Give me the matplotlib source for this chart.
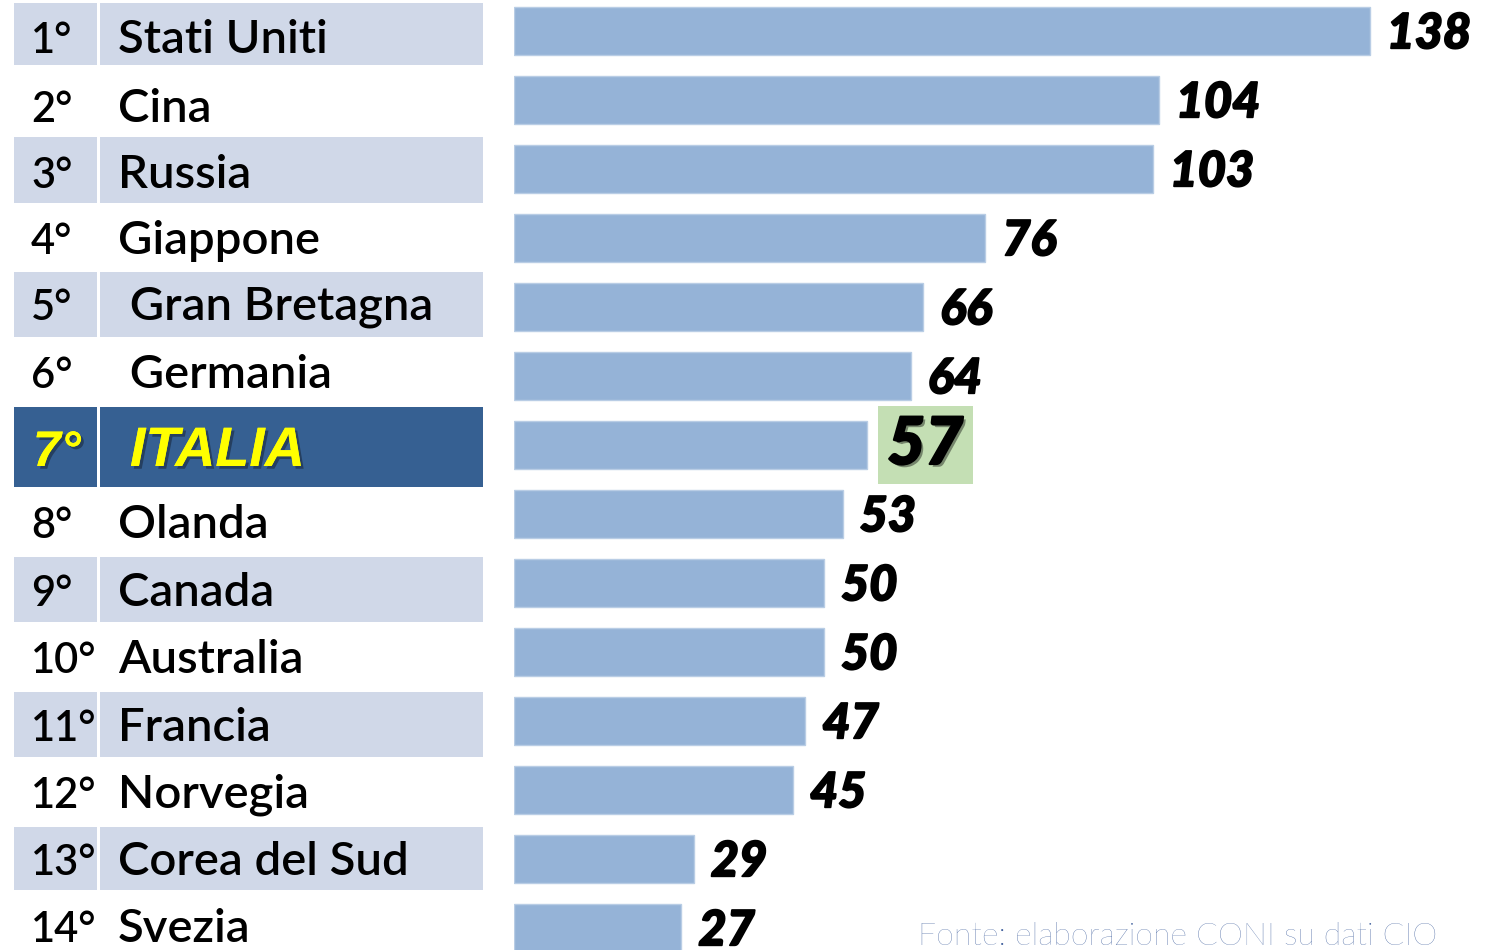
import matplotlib
matplotlib.use('Agg')
import matplotlib.pyplot as plt
import matplotlib.patheffects as pe
from matplotlib.patches import Rectangle

ranks = ['1°', '2°', '3°', '4°', '5°', '6°', '7°', '8°', '9°', '10°',
         '11°', '12°', '13°', '14°']
countries = ['Stati Uniti', 'Cina', 'Russia', 'Giappone', ' Gran Bretagna',
             ' Germania', 'ITALIA', 'Olanda', 'Canada', 'Australia',
             'Francia', 'Norvegia', 'Corea del Sud', 'Svezia']
medals = [138, 104, 103, 76, 66, 64, 57, 53, 50, 50, 47, 45, 29, 27]
highlight = 'ITALIA'
source = 'Fonte: elaborazione CONI su dati CIO'

W, H = 1491, 950
fig = plt.figure(figsize=(W / 100, H / 100), dpi=100)
fig.patch.set_facecolor('white')

# table on the left, pixel coordinates
tab = fig.add_axes([0, 0, 1, 1])
tab.set_xlim(0, W)
tab.set_ylim(H, 0)
tab.axis('off')

row_edges = [3, 65, 137, 203, 272, 337, 407, 487, 557, 622, 692, 757, 827, 890, 950]
baselines = [53, 122, 188, 254, 320, 388, 466, 538, 606, 673, 741, 808, 875, 942]
shade = '#D0D8E8'
dark = '#366092'

for i, (r, c) in enumerate(zip(ranks, countries)):
    top, bot = row_edges[i], row_edges[i + 1]
    hi = c.strip() == highlight
    if hi or i % 2 == 0:
        col = dark if hi else shade
        tab.add_patch(Rectangle((14, top), 83, bot - top, fc=col, ec='none'))
        tab.add_patch(Rectangle((100, top), 383, bot - top, fc=col, ec='none'))
    if hi:
        shadow = [pe.withSimplePatchShadow(offset=(2, -2), shadow_rgbFace='#1a2a40', alpha=0.6), pe.Normal()]
        tab.text(33, baselines[i], r, fontsize=36, color='#FFFF00', family='Liberation Sans',
                 weight='bold', style='italic', va='baseline', path_effects=shadow)
        tab.text(130, baselines[i], c, fontsize=40, color='#FFFF00', family='Liberation Sans',
                 weight='bold', style='italic', va='baseline', path_effects=shadow)
    else:
        tab.text(31, baselines[i], r, fontsize=30, color='black', family='Lato',
                 weight='semibold', va='baseline')
        tab.text(118, baselines[i], c, fontsize=34, color='black', family='Lato',
                 weight='semibold', va='baseline')

# bars
px_per_unit = 6.2
pitch = 69.0
first_center = 31.0
x0 = 514
ax = fig.add_axes([x0 / W, 0, (W - x0) / W, 1])
ax.patch.set_alpha(0)
ax.set_xlim(0, (W - x0) / px_per_unit)
ax.set_ylim((H - first_center) / pitch, -first_center / pitch)
ax.axis('off')

pos = list(range(len(medals)))
ax.barh(pos, medals, height=48 / pitch, color='#95B3D7', edgecolor='#B9CDE5', linewidth=1)

bold = [pe.withStroke(linewidth=1.3, foreground='black')]
for i, (v, c) in enumerate(zip(medals, countries)):
    if c.strip() == highlight:
        ax.annotate(str(v), (v, i), xytext=(20 * 0.72, 0), textcoords='offset points',
                    fontsize=47, family='Lato', weight='black', style='italic',
                    va='center', ha='left', color='black',
                    bbox=dict(boxstyle='square,pad=0.15', fc='#C4DFB4', ec='none'),
                    path_effects=[pe.withSimplePatchShadow(offset=(2, -2), alpha=0.4),
                                  pe.withStroke(linewidth=1.6, foreground='black')])
    else:
        ax.annotate(str(v), (v, i), xytext=(17 * 0.72, -2), textcoords='offset points',
                    fontsize=35, family='Lato', weight='black', style='italic',
                    va='center', ha='left', color='black', path_effects=bold)

fig.text(918 / W, 1 - 945 / H, source, fontsize=23, family='Lato', weight='light',
         color='#3E5E9C', va='baseline', ha='left')

fig.savefig('out.png', dpi=100)
